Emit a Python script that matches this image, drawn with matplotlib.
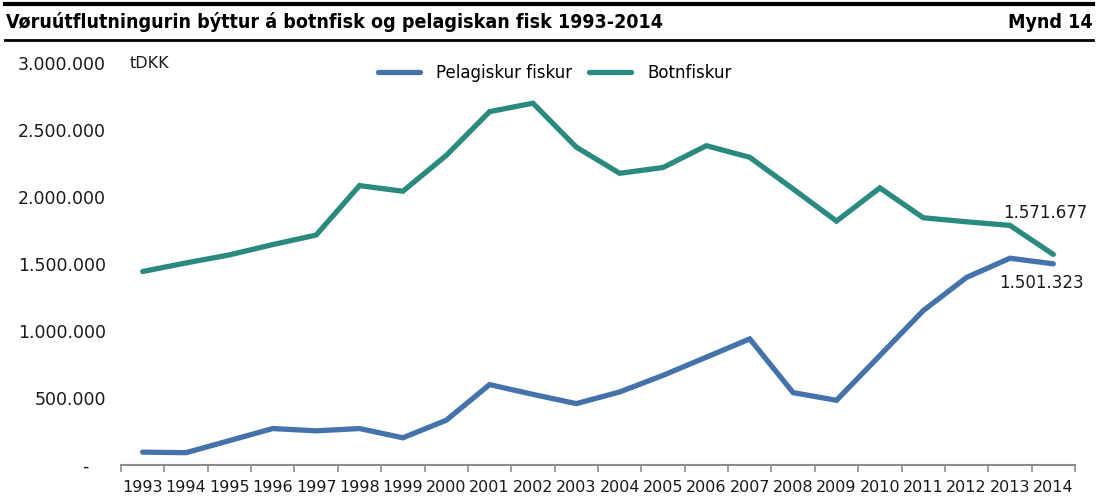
import matplotlib
matplotlib.use("Agg")
import matplotlib.pyplot as plt
from matplotlib.lines import Line2D

years = [str(y) for y in range(1993, 2015)]
pelagiskur = [96000, 92000, 182000, 272000, 255000, 272000, 203000, 334000, 600000, 527000,
              458000, 545000, 669000, 805000, 941000, 540000, 483000, 817000, 1152000, 1400000,
              1543000, 1501323]
botnfiskur = [1444000, 1508000, 1568000, 1645000, 1716000, 2085000, 2043000, 2310000, 2637000, 2700000,
              2372000, 2177000, 2220000, 2383000, 2296000, 2060000, 1820000, 2068000, 1845000, 1815000,
              1788000, 1571677]
yticks = [0, 500000, 1000000, 1500000, 2000000, 2500000, 3000000]
ytick_labels = ["-   ", "500.000", "1.000.000", "1.500.000", "2.000.000", "2.500.000", "3.000.000"]
title = "Vøruútflutningurin býttur á botnfisk og pelagiskan fisk 1993-2014"
fig_label = "Mynd 14"
unit = "tDKK"

blue = "#4472AA"
green = "#2B8A7F"

plt.rcParams['font.family'] = ['DejaVu Sans']
fig = plt.figure(figsize=(10.98, 4.99), dpi=100)
ax = fig.add_axes([121/1098, 1-465/499, (1075-121)/1098, (465-63)/499])

x = list(range(len(years)))
ax.plot(x, pelagiskur, color=blue, lw=3.8, solid_capstyle='round', solid_joinstyle='miter', label="Pelagiskur fiskur")
ax.plot(x, botnfiskur, color=green, lw=3.8, solid_capstyle='round', solid_joinstyle='miter', label="Botnfiskur")

ax.set_xlim(-0.5, len(years) - 0.5)
ax.set_ylim(0, 3000000)
ax.set_yticks(yticks)
ax.set_yticklabels(ytick_labels, fontsize=12.5, color="#1a1a1a")
ax.tick_params(axis='y', length=0, pad=11)
ax.set_xticks([i - 0.5 for i in range(len(years) + 1)], minor=False)
ax.set_xticklabels([])
ax.set_xticks(x, minor=True)
ax.set_xticklabels(years, minor=True, fontsize=11.5, color="#1a1a1a")
ax.tick_params(axis='x', which='major', length=5, width=1.2, color="#8c8c8c", direction='out')
ax.tick_params(axis='x', which='minor', length=0, pad=11)
for s in ['top', 'right', 'left']:
    ax.spines[s].set_visible(False)
ax.spines['bottom'].set_color("#8c8c8c")
ax.spines['bottom'].set_linewidth(1.5)

ax.annotate("1.571.677", xy=(x[-1], botnfiskur[-1]), xytext=(-36, 30), textcoords='offset points',
            fontsize=12, color="#1a1a1a", ha='left', va='center')
ax.annotate("1.501.323", xy=(x[-1], pelagiskur[-1]), xytext=(-39, -14), textcoords='offset points',
            fontsize=12, color="#1a1a1a", ha='left', va='center')

fig.text(130/1098, 1-63/499, unit, fontsize=11.5, color="#1a1a1a", va='center', ha='left')

handles = [Line2D([0], [0], color=blue, lw=3.8, solid_capstyle='round'),
           Line2D([0], [0], color=green, lw=3.8, solid_capstyle='round')]
fig.legend(handles, ["Pelagiskur fiskur", "Botnfiskur"], loc='center', bbox_to_anchor=(555/1098, 1-73/499),
           ncol=2, frameon=False, fontsize=12, handlelength=2.5, columnspacing=1.0, handletextpad=1.0)

# header
fig.add_artist(Line2D([5/1098, 1093/1098], [1-4/499, 1-4/499], color='black', lw=3))
fig.add_artist(Line2D([5/1098, 1093/1098], [1-40/499, 1-40/499], color='black', lw=2))
fig.text(6/1098, 1-22/499, title, fontsize=14, fontweight='bold', fontstretch='condensed',
         va='center', ha='left', color='black')
fig.text(1093/1098, 1-22/499, fig_label, fontsize=14, fontweight='bold', fontstretch='condensed',
         va='center', ha='right', color='black')

fig.savefig("out.png", dpi=100)
